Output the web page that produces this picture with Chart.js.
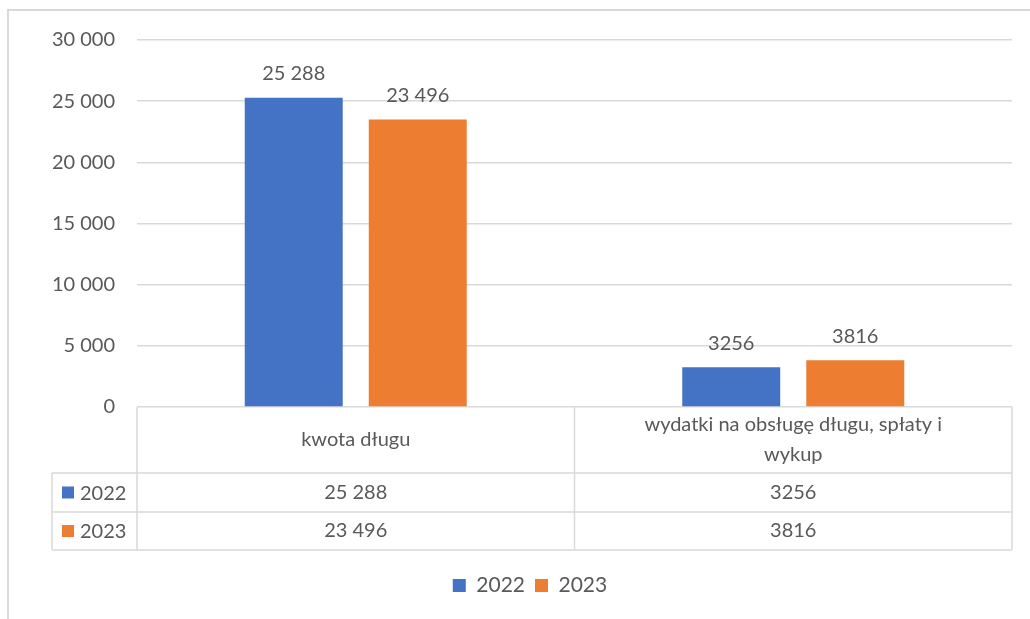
<!DOCTYPE html>
<html>
<head>
<meta charset="utf-8">
<script src="https://cdn.jsdelivr.net/npm/chart.js@4/dist/chart.umd.min.js"></script>
<style>
  html, body { margin: 0; padding: 0; background: #fff; }
  #wrap { width: 1030px; height: 619px; position: relative; }
</style>
</head>
<body>
<div id="wrap"><canvas id="debtChart" width="1030" height="619"></canvas></div>
<script>
const categories = ['kwota długu', ['wydatki na obsługę długu, spłaty i', 'wykup']];
const years = ['2022', '2023'];
const values2022 = [25288, 3256];
const values2023 = [23496, 3816];
const colors = ['#4472C4', '#ED7D31'];

const FONT = 'Lato, "Open Sans", sans-serif';
const TEXT = '#595959';
const LINE = '#d9d9d9';

// Excel style: space grouping only from 5 digits up
const fmtLabel = v => v >= 10000 ? String(v).replace(/\B(?=(\d{3})+(?!\d))/g, ' ') : String(v);
const fmtTick = v => String(v).replace(/\B(?=(\d{3})+(?!\d))/g, ' ');

const seriesRows = [values2022, values2023];

const frame = {
  id: 'frame',
  beforeDraw(chart) {
    const ctx = chart.ctx;
    ctx.save();
    ctx.fillStyle = '#fff';
    ctx.fillRect(0, 0, chart.width, chart.height);
    ctx.strokeStyle = LINE;
    ctx.lineWidth = 2;
    ctx.beginPath();
    ctx.moveTo(8, chart.height);
    ctx.lineTo(8, 10);
    ctx.lineTo(chart.width, 10);
    ctx.stroke();
    ctx.restore();
  }
};

const barLabels = {
  id: 'barLabels',
  afterDatasetsDraw(chart) {
    const ctx = chart.ctx;
    ctx.save();
    ctx.font = '20px ' + FONT;
    ctx.fillStyle = TEXT;
    ctx.textAlign = 'center';
    ctx.textBaseline = 'bottom';
    chart.data.datasets.forEach((ds, di) => {
      chart.getDatasetMeta(di).data.forEach((bar, i) => {
        ctx.fillText(fmtLabel(ds.data[i]), bar.x, bar.y - 14);
      });
    });
    ctx.restore();
  }
};

const dataTable = {
  id: 'dataTable',
  afterDraw(chart) {
    const ctx = chart.ctx;
    const x = chart.scales.x;
    const area = chart.chartArea;
    const top = area.bottom;
    const rowH = [66, 39, 38];
    const y1 = top + rowH[0], y2 = y1 + rowH[1], y3 = y2 + rowH[2];
    const headLeft = 52;
    const step = (area.right - area.left) / categories.length;

    ctx.save();
    ctx.strokeStyle = LINE;
    ctx.lineWidth = 1.5;
    ctx.beginPath();
    [y1, y2, y3].forEach(y => { ctx.moveTo(headLeft, y); ctx.lineTo(area.right, y); });
    ctx.moveTo(headLeft, y1); ctx.lineTo(headLeft, y3);
    for (let i = 0; i <= categories.length; i++) {
      const lx = area.left + step * i;
      ctx.moveTo(lx, top); ctx.lineTo(lx, y3);
    }
    ctx.stroke();

    ctx.font = '20px ' + FONT;
    ctx.fillStyle = TEXT;
    ctx.textAlign = 'center';
    ctx.textBaseline = 'middle';
    categories.forEach((c, i) => {
      const cx = x.getPixelForValue(i);
      const lines = Array.isArray(c) ? c : [c];
      const lh = 30;
      const start = top + rowH[0] / 2 - (lines.length - 1) * lh / 2;
      lines.forEach((l, j) => ctx.fillText(l, cx, start + j * lh));
      seriesRows.forEach((row, r) => {
        const cy = r === 0 ? (y1 + y2) / 2 : (y2 + y3) / 2;
        ctx.fillText(fmtLabel(row[i]), cx, cy);
      });
    });

    ctx.textAlign = 'left';
    years.forEach((yr, r) => {
      const cy = r === 0 ? (y1 + y2) / 2 : (y2 + y3) / 2;
      ctx.fillStyle = colors[r];
      ctx.fillRect(62, cy - 6, 12, 12);
      ctx.fillStyle = TEXT;
      ctx.fillText(yr, 80, cy + 1);
    });
    ctx.restore();
  }
};

new Chart(document.getElementById('debtChart'), {
  type: 'bar',
  data: {
    labels: categories,
    datasets: [
      { label: years[0], data: values2022, backgroundColor: colors[0] },
      { label: years[1], data: values2023, backgroundColor: colors[1] }
    ]
  },
  options: {
    responsive: false,
    animation: false,
    devicePixelRatio: 1,
    layout: { padding: { top: 40, right: 18, bottom: 13, left: 48 } },
    datasets: { bar: { categoryPercentage: 0.567, barPercentage: 0.79 } },
    scales: {
      x: {
        grid: { display: false },
        border: { display: false },
        ticks: { display: false },
        afterFit(scale) { scale.height = 158; }
      },
      y: {
        min: 0,
        max: 30000,
        ticks: {
          stepSize: 5000,
          padding: 22,
          color: TEXT,
          font: { family: FONT, size: 20 },
          callback: v => fmtTick(v)
        },
        grid: { color: LINE, lineWidth: 1.5, drawTicks: false },
        border: { display: false },
        afterFit(scale) { scale.width = 89; }
      }
    },
    plugins: {
      legend: {
        position: 'bottom',
        labels: {
          boxWidth: 13,
          boxHeight: 13,
          padding: 10,
          color: TEXT,
          font: { family: FONT, size: 21 }
        }
      },
      tooltip: { enabled: false }
    }
  },
  plugins: [frame, barLabels, dataTable]
});
</script>
</body>
</html>
